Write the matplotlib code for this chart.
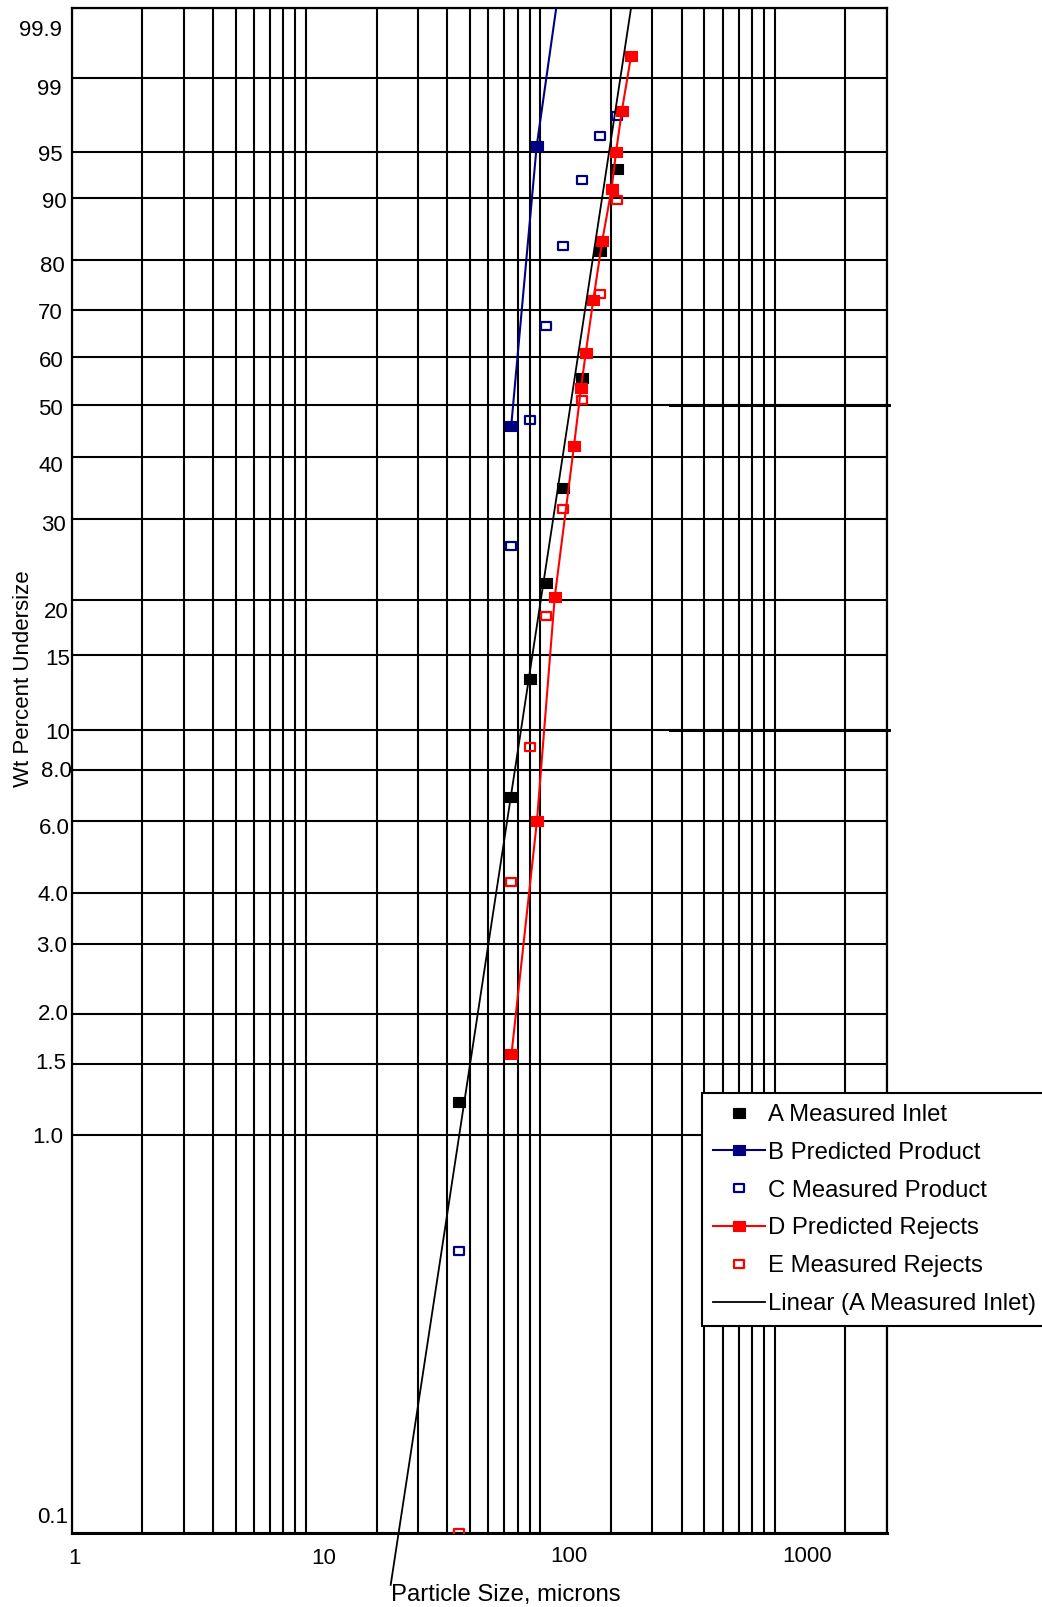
import numpy as np
import matplotlib
matplotlib.use("Agg")
import matplotlib.pyplot as plt
from matplotlib.path import Path
from matplotlib.ticker import LogLocator, NullFormatter, FixedLocator

plt.rcParams['font.family'] = ['Liberation Sans', 'DejaVu Sans']

# Cumulative size distributions: particle size (microns) vs wt % undersize
inlet_size = [45, 75, 90, 106, 125, 150, 180, 212]
inlet_pct = [1.21, 6.87, 13.2, 21.8, 34.8, 55.6, 81.6, 93.4]

pred_product_size = [75, 96.3, 125]
pred_product_pct = [45.8, 95.5, 99.99]

meas_product_size = [45, 75, 90, 106, 125, 150, 180, 212]
meas_product_pct = [0.51, 26.3, 47.0, 66.5, 82.5, 92.2, 96.3, 97.5]

pred_rejects_size = [75.2, 96.6, 115, 139, 149, 156, 168, 183.5, 201, 210, 222.5, 243.5]
pred_rejects_pct = [1.59, 6.02, 20.3, 42.1, 53.5, 60.8, 72.0, 83.4, 91.1, 95.0, 97.8, 99.47]

meas_rejects_size = [45, 75, 90, 106, 125, 150, 180, 212]
meas_rejects_pct = [0.10, 4.26, 9.09, 18.4, 31.5, 51.0, 73.2, 89.7]

# Straight-line fit for the inlet sample
trend_size = [22.96, 243.3]
trend_pct = [0.0739, 99.9]

pct_levels = [0.1, 1.0, 1.5, 2.0, 3.0, 4.0, 6.0, 8.0, 10, 15, 20, 30, 40,
              50, 60, 70, 80, 90, 95, 99, 99.9]
pct_labels = ['0.1', '1.0', '1.5', '2.0', '3.0', '4.0', '6.0', '8.0', '10',
              '15', '20', '30', '40', '50', '60', '70', '80', '90', '95',
              '99', '99.9']
size_levels = [1, 10, 100, 1000]
size_labels = ['1', '10', '100', '1000']

# label nudges in pixels (right/up), as set on the printed chart paper
pct_label_nudge = {
    '99.9': (-10, -28), '99': (-10.7, -17), '95': (-9.4, -8.6),
    '90': (-5, -10.4), '80': (-7.4, -12.7), '70': (-9.4, -9.7),
    '60': (-7.7, -10.7), '50': (-8.4, -10), '40': (-8.4, -14.6),
    '30': (-5.7, -11.4), '20': (-2.7, -17.3), '15': (-1.7, -9.7),
    '10': (-1.7, -9), '8.0': (0, -7.3), '6.0': (-1.7, -13),
    '4.0': (-3.4, -8), '3.0': (-5, -8), '2.0': (-3.4, -5.7),
    '1.5': (-5, -4.7), '1.0': (-8.4, -8), '0.1': (-3.4, 9.4),
}
size_label_nudge = {'1': (2.3, -31.3), '10': (17.2, -31.3),
                    '100': (28.2, -29), '1000': (32.6, -29)}


def rr_forward(p):
    # Rosin-Rammler probability axis
    p = np.asarray(p, dtype=float)
    with np.errstate(divide='ignore', invalid='ignore'):
        q = np.clip(p / 100.0, 1e-12, 1 - 1e-12)
        return np.log(-np.log(1.0 - q))


def rr_inverse(t):
    t = np.asarray(t, dtype=float)
    return 100.0 * (1.0 - np.exp(-np.exp(t)))


W, H = 1042, 1607
fig = plt.figure(figsize=(W / 100, H / 100), dpi=100)
ax = fig.add_axes([71.7 / W, (H - 1532.7) / H, 815 / W, 1524.4 / H])

ax.set_xscale('log')
ax.set_yscale('function', functions=(rr_forward, rr_inverse))
ax.set_xlim(1, 3000)
ax.set_ylim(0.1, 99.9)

ax.xaxis.set_major_locator(FixedLocator(size_levels))
ax.xaxis.set_minor_locator(LogLocator(base=10, subs=np.arange(2, 10), numticks=20))
ax.xaxis.set_major_formatter(NullFormatter())
ax.xaxis.set_minor_formatter(NullFormatter())
ax.yaxis.set_major_locator(FixedLocator(pct_levels))
ax.yaxis.set_minor_locator(FixedLocator([]))
ax.yaxis.set_major_formatter(NullFormatter())
ax.tick_params(which='both', length=0)

grid_kw = dict(color='black', linewidth=1.5)
ax.grid(True, which='major', axis='both', **grid_kw)
ax.grid(True, which='minor', axis='x', **grid_kw)
ax.set_axisbelow(True)

for side in ['left', 'right', 'top']:
    ax.spines[side].set_linewidth(1.6)
ax.spines['bottom'].set_linewidth(2.2)

# heavier ruling strokes on the right side of the paper
for lvl in (50, 10):
    ax.plot([0.734, 1.003], [lvl, lvl], transform=ax.get_yaxis_transform(),
            color='black', lw=2.2, clip_on=False, zorder=1.5)

box = Path([(-1.25, -1), (1.25, -1), (1.25, 1), (-1.25, 1), (-1.25, -1)],
           closed=True)
hbox = Path([(-1.15, -1), (1.15, -1), (1.15, 1), (-1.15, 1), (-1.15, -1)],
            closed=True)
navy = '#000080'
red = '#FF0000'

hA, = ax.plot(inlet_size, inlet_pct, linestyle='none', marker=box, ms=8.3,
              mfc='black', mec='black', mew=0.8, zorder=4)
hB, = ax.plot(pred_product_size, pred_product_pct, color=navy, lw=1.5,
              marker=box, ms=8.3, mfc=navy, mec=navy, mew=0.8, zorder=4)
hC, = ax.plot(meas_product_size, meas_product_pct, linestyle='none',
              marker=hbox, ms=6.8, mfc='none', mec=navy, mew=1.6, zorder=4)
hD, = ax.plot(pred_rejects_size, pred_rejects_pct, color=red, lw=1.5,
              marker=box, ms=8.3, mfc=red, mec=red, mew=0.8, zorder=4)
hE, = ax.plot(meas_rejects_size, meas_rejects_pct, linestyle='none',
              marker=hbox, ms=6.8, mfc='none', mec=red, mew=1.6, zorder=4)
hT, = ax.plot(trend_size, trend_pct, color='black', lw=1.3, clip_on=False,
              zorder=5)

for lvl, lab in zip(pct_levels, pct_labels):
    dx, dy = pct_label_nudge[lab]
    ax.annotate(lab, xy=(0, lvl), xycoords=('axes fraction', 'data'),
                xytext=(dx, dy), textcoords='offset pixels',
                ha='right', va='baseline', fontsize=16)

for lvl, lab in zip(size_levels, size_labels):
    dx, dy = size_label_nudge[lab]
    ax.annotate(lab, xy=(lvl, 0), xycoords=('data', 'axes fraction'),
                xytext=(dx, dy), textcoords='offset pixels',
                ha='center', va='baseline', fontsize=16)

fig.text(506 / W, 1 - 1600.7 / H, 'Particle Size, microns', ha='center',
         va='baseline', fontsize=17.2)
fig.text(24 / W, 1 - 679 / H, 'Wt Percent Undersize', rotation=90,
         ha='center', va='center', fontsize=16)

leg = ax.legend([hA, hB, hC, hD, hE, hT],
                ['A Measured Inlet', 'B Predicted Product',
                 'C Measured Product', 'D Predicted Rejects',
                 'E Measured Rejects', 'Linear (A Measured Inlet)'],
                loc='upper left', bbox_to_anchor=(702.3 / W, 1 - 1093.3 / H),
                bbox_transform=fig.transFigure, borderaxespad=0,
                fontsize=17.2, handlelength=2.16, handletextpad=0.12,
                borderpad=0.45, labelspacing=0.66, numpoints=1,
                frameon=True, fancybox=False, framealpha=1)
leg.get_frame().set_edgecolor('black')
leg.get_frame().set_linewidth(1.5)
leg.set_zorder(10)

fig.savefig('out.png', dpi=100)
